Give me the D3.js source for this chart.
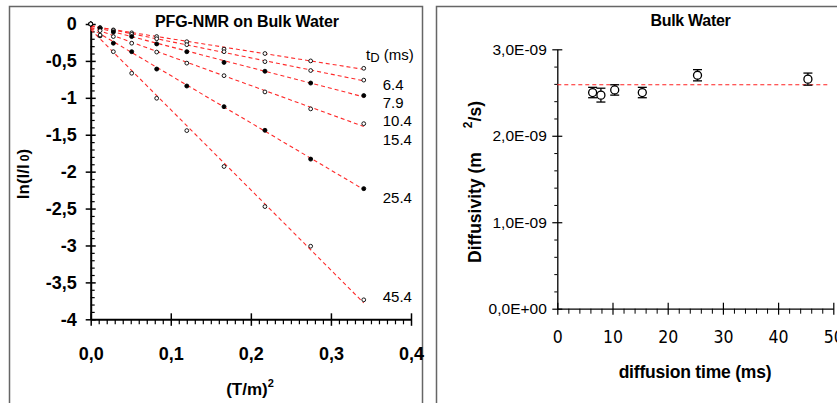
<!DOCTYPE html>
<html>
<head>
<meta charset="utf-8">
<script src="https://cdn.jsdelivr.net/npm/d3@7"></script>
<style>
  body { margin: 0; background: #fff; }
  svg { display: block; font-family: "Liberation Sans", Arial, sans-serif; }
</style>
</head>
<body>
<svg id="chart" width="837" height="403"></svg>
<script>
// ---- left panel data: ln(I/I0) vs (T/m)^2 for each diffusion time ----
const gradSq = [0, 0.0117, 0.0283, 0.0512, 0.0824, 0.12, 0.1665, 0.2176, 0.2747, 0.341];
const diffTimes = ["6.4", "7.9", "10.4", "15.4", "25.4", "45.4"];
const decay64  = [0, -0.05, -0.08, -0.12, -0.17, -0.24, -0.34, -0.40, -0.50, -0.60];
const decay79  = [0, -0.05, -0.09, -0.14, -0.20, -0.28, -0.375, -0.51, -0.63, -0.76];
const decay104 = [0, -0.06, -0.11, -0.17, -0.27, -0.375, -0.52, -0.64, -0.80, -0.97];
const decay154 = [0, -0.09, -0.17, -0.26, -0.38, -0.53, -0.70, -0.92, -1.15, -1.35];
const decay254 = [0, -0.16, -0.26, -0.375, -0.61, -0.84, -1.12, -1.44, -1.83, -2.23];
const decay454 = [0, -0.15, -0.375, -0.667, -1.006, -1.444, -1.93, -2.473, -3.01, -3.736];
const filledMarker = [false, false, true, false, true, false];
// where the t_D labels sit, in ln(I/I0) units
const tdLabelAt = [-0.9, -1.14, -1.38, -1.64, -2.43, -3.76];

const yTicksL = [0, -0.5, -1, -1.5, -2, -2.5, -3, -3.5, -4];
const xTicksL = [0, 0.1, 0.2, 0.3, 0.4];

// ---- right panel data: diffusivity vs diffusion time ----
const diffTimeMs = [6.4, 7.9, 10.4, 15.4, 25.4, 45.4];
const diffusivity = [2.50e-9, 2.47e-9, 2.53e-9, 2.50e-9, 2.70e-9, 2.655e-9];
const diffErr = [0.06e-9, 0.08e-9, 0.06e-9, 0.06e-9, 0.065e-9, 0.07e-9];
const bulkD = 2.59e-9;
const bulkLineSpan = [0, 49];

const yTicksR = [0, 1e-9, 2e-9, 3e-9];
const xTicksR = [0, 10, 20, 30, 40, 50];

const svg = d3.select("#chart");

// panel frames
svg.append("rect").attr("x", 9.5).attr("y", 6.5).attr("width", 413).attr("height", 420)
   .attr("fill", "none").attr("stroke", "#666").attr("stroke-width", 1.5);
svg.append("rect").attr("x", 436.5).attr("y", 6.5).attr("width", 420).attr("height", 420)
   .attr("fill", "none").attr("stroke", "#666").attr("stroke-width", 1.5);

function commaNum(d) {
    if (Number.isInteger(d)) return String(d);
    return d.toFixed(1).replace(".", ",");
}
function commaFixed(d) {
    return d.toFixed(1).replace(".", ",");
}
function sciComma(d) {
    let [m, e] = d.toExponential(1).split("e");
    let sign = e[0] === "-" ? "-" : "+";
    let digits = e.replace(/[+-]/, "").padStart(2, "0");
    return m.replace(".", ",") + "E" + sign + digits;
}

// ================= LEFT CHART =================
const xL = d3.scaleLinear().domain([0, 0.4]).range([90.7, 411]);
const yL = d3.scaleLinear().domain([-4, 0]).range([319.3, 24]);
const left = svg.append("g");

// minor ticks
const yMinorL = d3.range(-40, 1).map(i => i / 10).filter(v => Math.round(v * 10) % 5 !== 0);
left.append("g").attr("transform", `translate(${xL(0)},0)`)
    .call(d3.axisRight(yL).tickValues(yMinorL).tickSize(4).tickSizeOuter(0).tickFormat(""))
    .call(g => g.select(".domain").remove())
    .call(g => g.selectAll(".tick line").attr("stroke-width", 1.2));
const xMinorL = d3.range(0, 41).map(i => i / 100).filter(v => Math.round(v * 100) % 10 !== 0);
left.append("g").attr("transform", `translate(0,${yL(-4)})`)
    .call(d3.axisBottom(xL).tickValues(xMinorL).tickSize(5).tickSizeOuter(0).tickFormat(""))
    .call(g => g.select(".domain").remove())
    .call(g => g.selectAll(".tick line").attr("stroke-width", 1.2));

// major axes
left.append("g").attr("transform", `translate(${xL(0)},0)`)
    .call(d3.axisLeft(yL).tickValues(yTicksL).tickSize(5).tickSizeOuter(0).tickFormat(commaNum))
    .call(g => g.select(".domain").attr("stroke-width", 2))
    .call(g => g.selectAll(".tick line").attr("x1", 5).attr("x2", -5).attr("stroke-width", 1.5))
    .call(g => g.selectAll(".tick text").attr("x", -14)
        .attr("font-size", 18).attr("font-weight", "bold").attr("fill", "#000")
        .attr("font-family", "Liberation Sans, Arial, sans-serif"));
left.append("g").attr("transform", `translate(0,${yL(-4)})`)
    .call(d3.axisBottom(xL).tickValues(xTicksL).tickSize(6).tickSizeOuter(0).tickFormat(commaFixed))
    .call(g => g.select(".domain").attr("stroke-width", 2))
    .call(g => g.selectAll(".tick line").attr("y1", -6).attr("y2", 6.5).attr("stroke-width", 1.5))
    .call(g => g.selectAll(".tick text").attr("y", 41).attr("dy", null)
        .attr("font-size", 18).attr("font-weight", "bold").attr("fill", "#000")
        .attr("font-family", "Liberation Sans, Arial, sans-serif"));

// series
const decaySeries = [decay64, decay79, decay104, decay154, decay254, decay454];
function fitLine(xs, ys) {
    const mx = d3.mean(xs), my = d3.mean(ys);
    let sxy = 0, sxx = 0;
    xs.forEach((x, i) => { sxy += (x - mx) * (ys[i] - my); sxx += (x - mx) * (x - mx); });
    const b = sxy / sxx;
    return { slope: b, icpt: my - b * mx };
}
decaySeries.forEach((vals, s) => {
    const f = fitLine(gradSq, vals);
    const x0 = gradSq[0], x1 = gradSq[gradSq.length - 1];
    left.append("line")
        .attr("x1", xL(x0)).attr("y1", yL(f.icpt + f.slope * x0))
        .attr("x2", xL(x1)).attr("y2", yL(f.icpt + f.slope * x1))
        .attr("stroke", "#ff2a2a").attr("stroke-width", 1.1)
        .attr("stroke-dasharray", "4,3");
});
decaySeries.forEach((vals, s) => {
    left.selectAll(null).data(vals.map((v, i) => [gradSq[i], v])).join("circle")
        .attr("cx", d => xL(d[0])).attr("cy", d => yL(d[1]))
        .attr("r", filledMarker[s] ? 2 : 1.9)
        .attr("fill", filledMarker[s] ? "#000" : "#fff")
        .attr("stroke", "#000").attr("stroke-width", 0.9);
});

// titles & labels
left.append("text").attr("x", 247).attr("y", 27).attr("text-anchor", "middle")
    .attr("font-size", 16).attr("font-weight", "bold").attr("letter-spacing", -0.1)
    .text("PFG-NMR on Bulk Water");
const xlab = left.append("text").attr("x", 250).attr("y", 395).attr("text-anchor", "middle")
    .attr("font-size", 17).attr("font-weight", "bold");
xlab.append("tspan").text("(T/m)");
xlab.append("tspan").attr("dy", -8).attr("font-size", 11).text("2");
const ylab = left.append("text").attr("transform", "translate(29,174) rotate(-90)")
    .attr("text-anchor", "middle").attr("font-size", 17).attr("font-weight", "bold");
ylab.append("tspan").text("ln(I/I");
ylab.append("tspan").attr("dx", 3).attr("font-size", 12).text("0");
ylab.append("tspan").text(")");

const td = left.append("text").attr("x", 366).attr("y", 60).attr("font-size", 15);
td.append("tspan").text("t");
td.append("tspan").attr("font-size", 13).attr("dy", 2).text("D");
td.append("tspan").attr("dy", -2).text(" (ms)");
left.selectAll(null).data(diffTimes).join("text")
    .attr("x", xL(gradSq[gradSq.length - 1]) + 19)
    .attr("y", (d, i) => yL(tdLabelAt[i]))
    .attr("font-size", 15).text(d => d);

// ================= RIGHT CHART =================
const xR = d3.scaleLinear().domain([0, 50]).range([557.3, 833.3]);
const yR = d3.scaleLinear().domain([0, 3e-9]).range([308.7, 49.3]);
const right = svg.append("g");

const yMinorR = d3.range(0, 16).map(i => i * 0.2e-9).filter((v, i) => i % 5 !== 0);
right.append("g").attr("transform", `translate(${xR(0)},0)`)
    .call(d3.axisLeft(yR).tickValues(yMinorR).tickSize(3).tickSizeOuter(0).tickFormat(""))
    .call(g => g.select(".domain").remove());
const xMinorR = d3.range(0, 51, 2).filter(v => v % 10 !== 0);
right.append("g").attr("transform", `translate(0,${yR(0)})`)
    .call(d3.axisBottom(xR).tickValues(xMinorR).tickSize(5).tickSizeOuter(0).tickFormat(""))
    .call(g => g.select(".domain").remove());

right.append("g").attr("transform", `translate(${xR(0)},0)`)
    .call(d3.axisLeft(yR).tickValues(yTicksR).tickSize(5).tickSizeOuter(0).tickFormat(sciComma))
    .call(g => g.select(".domain").attr("stroke-width", 1.3))
    .call(g => g.selectAll(".tick line").attr("x1", 5).attr("x2", -5).attr("stroke-width", 1.2))
    .call(g => g.selectAll(".tick text").attr("x", -10.5)
        .attr("font-size", 15.5).attr("fill", "#000")
        .attr("font-family", "Liberation Sans, Arial, sans-serif"));
right.append("g").attr("transform", `translate(0,${yR(0)})`)
    .call(d3.axisBottom(xR).tickValues(xTicksR).tickSize(6).tickSizeOuter(0))
    .call(g => g.select(".domain").attr("stroke-width", 1.3))
    .call(g => g.selectAll(".tick line").attr("y1", -6).attr("y2", 6).attr("stroke-width", 1.2))
    .call(g => g.selectAll(".tick text").attr("y", 34).attr("dy", null)
        .attr("font-size", 17.5).attr("fill", "#000")
        .attr("font-family", "Liberation Sans Narrow, DejaVu Sans Condensed, sans-serif"));

right.append("line")
    .attr("x1", xR(bulkLineSpan[0])).attr("x2", xR(bulkLineSpan[1]))
    .attr("y1", yR(bulkD)).attr("y2", yR(bulkD))
    .attr("stroke", "#ff2020").attr("stroke-width", 1.2).attr("stroke-dasharray", "4,3");

const pts = diffTimeMs.map((t, i) => ({ t, d: diffusivity[i], e: diffErr[i] }));
const eb = right.selectAll(null).data(pts).join("g").attr("stroke", "#000").attr("stroke-width", 1.3);
eb.append("line").attr("x1", d => xR(d.t)).attr("x2", d => xR(d.t))
    .attr("y1", d => yR(d.d - d.e)).attr("y2", d => yR(d.d + d.e));
eb.append("line").attr("x1", d => xR(d.t) - 4.5).attr("x2", d => xR(d.t) + 4.5)
    .attr("y1", d => yR(d.d + d.e)).attr("y2", d => yR(d.d + d.e));
eb.append("line").attr("x1", d => xR(d.t) - 4.5).attr("x2", d => xR(d.t) + 4.5)
    .attr("y1", d => yR(d.d - d.e)).attr("y2", d => yR(d.d - d.e));
right.selectAll(null).data(pts).join("circle")
    .attr("cx", d => xR(d.t)).attr("cy", d => yR(d.d)).attr("r", 4)
    .attr("fill", "#fff").attr("stroke", "#000").attr("stroke-width", 1.3);

right.append("text").attr("x", 690.5).attr("y", 26).attr("text-anchor", "middle")
    .attr("font-size", 16).attr("font-weight", "bold").attr("letter-spacing", -0.3)
    .text("Bulk Water");
right.append("text").attr("x", 695).attr("y", 378).attr("text-anchor", "middle")
    .attr("font-size", 17.5).attr("font-weight", "bold").attr("letter-spacing", -0.2)
    .text("diffusion time (ms)");
const ylabR = right.append("text").attr("transform", "translate(481,263) rotate(-90)")
    .attr("font-size", 17.5).attr("font-weight", "bold");
ylabR.append("tspan").text("Diffusivity (m");
ylabR.append("tspan").attr("dx", 24).attr("dy", -9).attr("font-size", 12).text("2");
ylabR.append("tspan").attr("dy", 9).text("/s)");
</script>
</body>
</html>
